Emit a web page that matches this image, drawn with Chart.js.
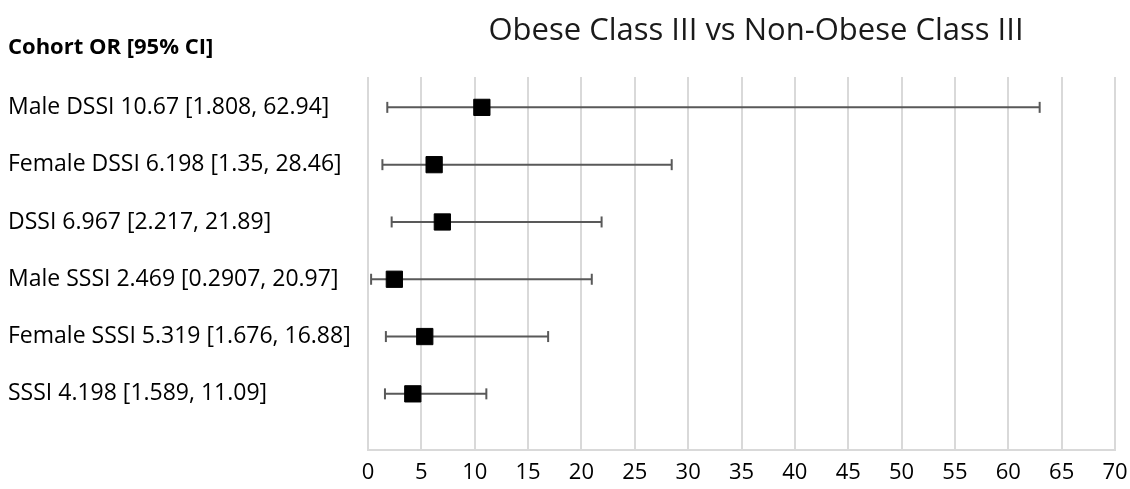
<!DOCTYPE html>
<html>
<head>
<meta charset="utf-8">
<script src="https://cdn.jsdelivr.net/npm/chart.js@4"></script>
<style>
  body { margin: 0; background: #fff; }
  #wrap { width: 1130px; height: 489px; }
</style>
</head>
<body>
<div id="wrap"><canvas id="grafico"></canvas></div>
<script>
const titulo = 'Obese Class III vs Non-Obese Class III';
const encabezado = 'Cohort OR [95% CI]';
const cohortes = ['Male DSSI', 'Female DSSI', 'DSSI', 'Male SSSI', 'Female SSSI', 'SSSI'];
const oddsRatio = [10.67, 6.198, 6.967, 2.469, 5.319, 4.198];
const ciBajo = [1.808, 1.35, 2.217, 0.2907, 1.676, 1.589];
const ciAlto = [62.94, 28.46, 21.89, 20.97, 16.88, 11.09];
const ticksX = [0, 5, 10, 15, 20, 25, 30, 35, 40, 45, 50, 55, 60, 65, 70];

const fuente = '"Open Sans", "DejaVu Sans", sans-serif';
// la primera cohorte va arriba
const filaY = i => cohortes.length - i;
const etiquetas = cohortes.map((c, i) => c + ' ' + oddsRatio[i] + ' [' + ciBajo[i] + ', ' + ciAlto[i] + ']');

const barras = cohortes.map((c, i) => ({
    type: 'line',
    data: [{ x: ciBajo[i], y: filaY(i) }, { x: ciAlto[i], y: filaY(i) }],
    borderColor: '#595959',
    borderWidth: 2,
    pointStyle: 'line',
    rotation: 90,
    pointRadius: 5.5,
    pointBorderColor: '#595959',
    pointBorderWidth: 2,
    order: 2
}));

const puntos = {
    type: 'scatter',
    data: oddsRatio.map((v, i) => ({ x: v, y: filaY(i) })),
    pointStyle: 'rect',
    pointRadius: 11.5,
    backgroundColor: '#000',
    borderColor: '#000',
    borderWidth: 1,
    order: 1
};

const textos = {
    id: 'textos',
    afterDraw(chart) {
        const ctx = chart.ctx;
        ctx.save();
        ctx.fillStyle = '#1a1a1a';
        ctx.textBaseline = 'middle';
        ctx.textAlign = 'center';
        ctx.font = '31px ' + fuente;
        ctx.fillText(titulo, 756, 31);
        ctx.fillStyle = '#000';
        ctx.textAlign = 'left';
        ctx.font = 'bold 22px ' + fuente;
        ctx.fillText(encabezado, 8, 48);
        ctx.restore();
    }
};

new Chart(document.getElementById('grafico'), {
    data: { datasets: [...barras, puntos] },
    options: {
        responsive: true,
        maintainAspectRatio: false,
        animation: false,
        events: [],
        layout: { padding: { top: 77, left: 8, right: 15, bottom: 0 } },
        plugins: { legend: { display: false }, tooltip: { enabled: false } },
        scales: {
            x: {
                type: 'linear',
                min: 0,
                max: 70,
                afterBuildTicks: axis => { axis.ticks = ticksX.map(v => ({ value: v })); },
                afterFit: axis => { axis.height = 39; axis.paddingLeft = 0; axis.paddingRight = 0; },
                grid: { color: '#d9d9d9', lineWidth: 2, drawTicks: false },
                border: { color: '#d9d9d9', width: 2 },
                ticks: { color: '#000', padding: 10, font: { family: fuente, size: 22 } }
            },
            y: {
                type: 'linear',
                min: 0.02,
                max: 6.53,
                afterBuildTicks: axis => { axis.ticks = cohortes.map((c, i) => ({ value: filaY(i) })); },
                afterFit: axis => { axis.width = 360; axis.paddingTop = 0; axis.paddingBottom = 0; },
                grid: { display: false },
                border: { display: false },
                ticks: {
                    color: '#000',
                    crossAlign: 'far',
                    font: { family: fuente, size: 23 },
                    callback: v => etiquetas[cohortes.length - v]
                }
            }
        }
    },
    plugins: [textos]
});
</script>
</body>
</html>
